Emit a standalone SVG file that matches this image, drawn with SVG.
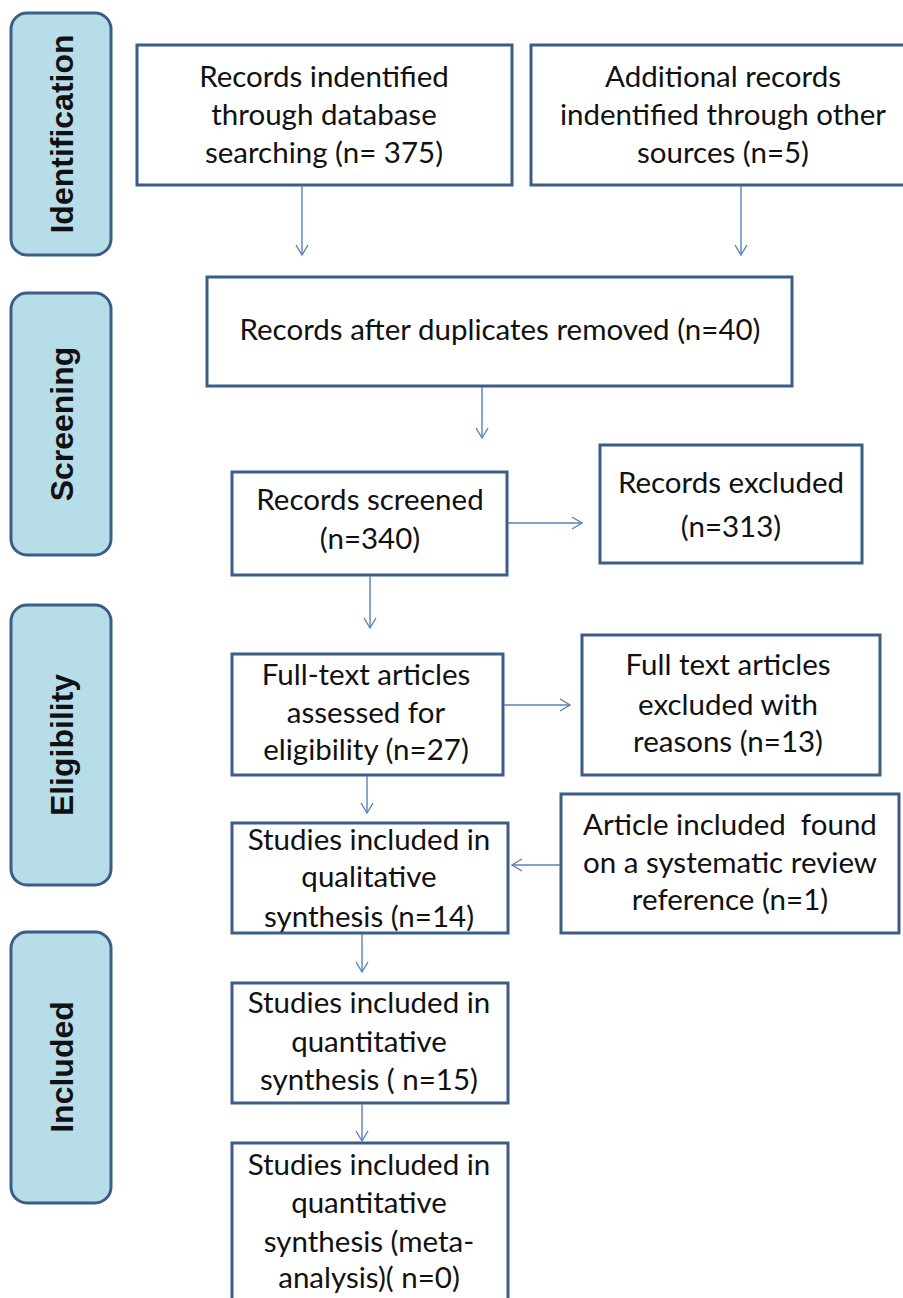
<svg xmlns="http://www.w3.org/2000/svg" width="903" height="1298" viewBox="0 0 903 1298">
<style>
.bar{fill:#b7dde8;stroke:#3b5d87;stroke-width:3}
.box{fill:#ffffff;stroke:#3b5d87;stroke-width:3}
.lbl{font-family:"Liberation Sans",Arial,sans-serif;font-weight:bold;font-size:32px;fill:#111;text-anchor:middle}
.t{font-family:Lato,"Open Sans",sans-serif;font-size:29.5px;fill:#111;text-anchor:middle}
.c{fill:none;stroke:#5a80b8;stroke-width:1.4}
</style>
<defs>
<marker id="ah" markerUnits="userSpaceOnUse" markerWidth="14" markerHeight="16" refX="11" refY="7" orient="auto">
<path d="M1,1 L11,7 L1,13" fill="none" stroke="#5a80b8" stroke-width="1.4"/>
</marker>
</defs>
<rect width="903" height="1298" fill="#ffffff"/>
<g id="phase-identification">
<rect class="bar" x="11" y="13" width="100" height="242" rx="16"/>
<text class="lbl" transform="translate(73,134) rotate(-90)">Identification</text>
</g>
<g id="phase-screening">
<rect class="bar" x="11" y="293" width="100" height="262" rx="16"/>
<text class="lbl" transform="translate(73,424) rotate(-90)">Screening</text>
</g>
<g id="phase-eligibility">
<rect class="bar" x="11" y="605" width="100" height="280" rx="16"/>
<text class="lbl" transform="translate(73,745) rotate(-90)">Eligibility</text>
</g>
<g id="phase-included">
<rect class="bar" x="11" y="932" width="100" height="271" rx="16"/>
<text class="lbl" transform="translate(73,1067) rotate(-90)">Included</text>
</g>
<g id="n-database">
<rect class="box" x="137" y="45" width="375" height="140"/>
<text class="t" x="324" y="87">Records indentified</text>
<text class="t" x="324" y="125">through database</text>
<text class="t" x="324" y="163">searching (n= 375)</text>
</g>
<g id="n-other">
<rect class="box" x="531" y="45" width="385" height="140"/>
<text class="t" x="723" y="87">Additional records</text>
<text class="t" x="723" y="125">indentified through other</text>
<text class="t" x="723" y="163">sources (n=5)</text>
</g>
<g id="n-duplicates">
<rect class="box" x="207" y="277" width="585" height="109"/>
<text class="t" x="500" y="340">Records after duplicates removed (n=40)</text>
</g>
<g id="n-screened">
<rect class="box" x="232" y="472" width="275" height="103"/>
<text class="t" x="370" y="510">Records screened</text>
<text class="t" x="370" y="549">(n=340)</text>
</g>
<g id="n-excluded">
<rect class="box" x="600" y="445" width="262" height="118"/>
<text class="t" x="731" y="493">Records excluded</text>
<text class="t" x="731" y="537">(n=313)</text>
</g>
<g id="n-fulltext">
<rect class="box" x="232" y="654" width="271" height="121"/>
<text class="t" x="366" y="685">Full-text articles</text>
<text class="t" x="366" y="723">assessed for</text>
<text class="t" x="366" y="760">eligibility (n=27)</text>
</g>
<g id="n-ft-excluded">
<rect class="box" x="582" y="635" width="298" height="140"/>
<text class="t" x="728" y="675">Full text articles</text>
<text class="t" x="728" y="715">excluded with</text>
<text class="t" x="728" y="752">reasons (n=13)</text>
</g>
<g id="n-article">
<rect class="box" x="561" y="794" width="338" height="139"/>
<text class="t" x="730" y="835" xml:space="preserve">Article included  found</text>
<text class="t" x="730" y="873">on a systematic review</text>
<text class="t" x="730" y="910">reference (n=1)</text>
</g>
<g id="n-qualitative">
<rect class="box" x="232" y="823" width="276" height="110"/>
<text class="t" x="369" y="850">Studies included in</text>
<text class="t" x="369" y="887">qualitative</text>
<text class="t" x="369" y="927">synthesis (n=14)</text>
</g>
<g id="n-quantitative">
<rect class="box" x="232" y="983" width="276" height="120"/>
<text class="t" x="369" y="1013">Studies included in</text>
<text class="t" x="369" y="1052">quantitative</text>
<text class="t" x="369" y="1090">synthesis ( n=15)</text>
</g>
<g id="n-meta">
<rect class="box" x="232" y="1143" width="276" height="170"/>
<text class="t" x="369" y="1175">Studies included in</text>
<text class="t" x="369" y="1213">quantitative</text>
<text class="t" x="369" y="1252">synthesis (meta-</text>
<text class="t" x="369" y="1288">analysis)( n=0)</text>
</g>
<g id="connectors">
<line class="c" x1="302" y1="186" x2="302" y2="255" marker-end="url(#ah)"/>
<line class="c" x1="741" y1="186" x2="741" y2="255" marker-end="url(#ah)"/>
<line class="c" x1="482" y1="387" x2="482" y2="438" marker-end="url(#ah)"/>
<line class="c" x1="508" y1="523" x2="582" y2="523" marker-end="url(#ah)"/>
<line class="c" x1="370" y1="576" x2="370" y2="628" marker-end="url(#ah)"/>
<line class="c" x1="504" y1="705" x2="570" y2="705" marker-end="url(#ah)"/>
<line class="c" x1="367" y1="776" x2="367" y2="813" marker-end="url(#ah)"/>
<line class="c" x1="560" y1="865" x2="512" y2="865" marker-end="url(#ah)"/>
<line class="c" x1="362" y1="934" x2="362" y2="972" marker-end="url(#ah)"/>
<line class="c" x1="362" y1="1104" x2="362" y2="1141" marker-end="url(#ah)"/>
</g>
</svg>
